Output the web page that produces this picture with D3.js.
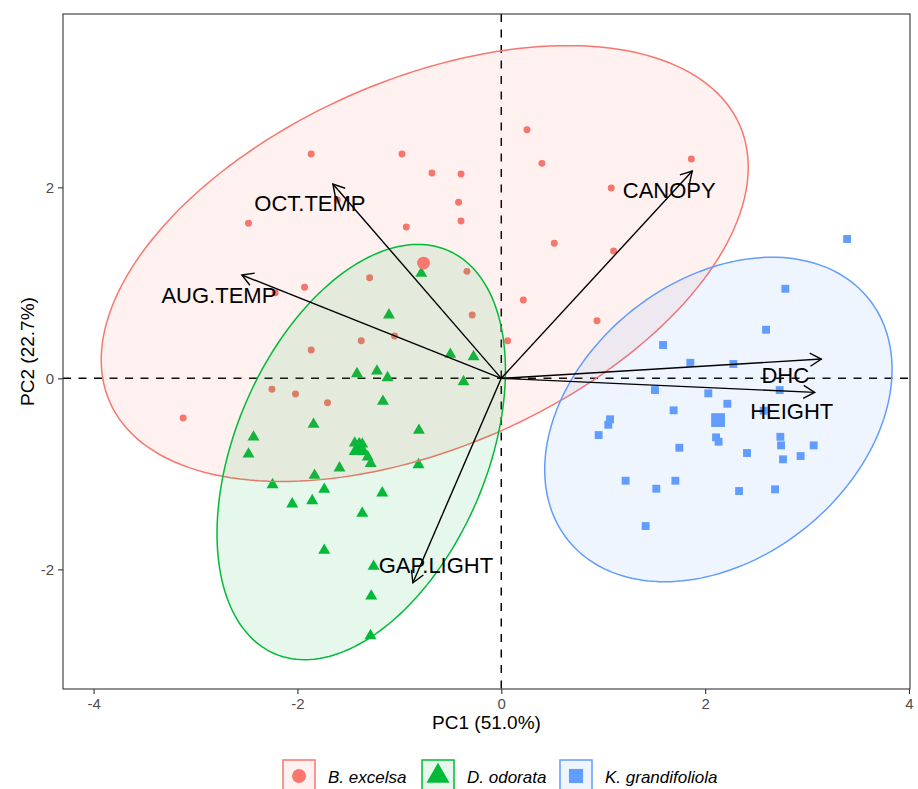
<!DOCTYPE html>
<html>
<head>
<meta charset="utf-8">
<script src="https://cdn.jsdelivr.net/npm/d3@7"></script>
<style>
  body { margin: 0; background: #fff; }
  svg { display: block; }
  text { font-family: "Liberation Sans", Arial, Helvetica, sans-serif; }
</style>
</head>
<body>
<svg id="chart" width="918" height="789"></svg>
<script>
// ---- data -------------------------------------------------------------
const groups = ["B. excelsa", "D. odorata", "K. grandifoliola"];
const groupColors = ["#F8766D", "#00BA38", "#619CFF"];

// individual scores (PC1, PC2) per species
const excelsaPC1 = [-1.865, -2.480, -1.930, -2.218, -1.609, -0.974, -0.680, -0.395, -0.419, -0.395,
                    -0.932, 0.252, 0.399, 0.520, -1.292, -0.337, 0.216, -0.285, 0.939, -1.374,
                    -1.047, 0.062, -1.865, -2.250, -2.019, -1.705, -3.121, 1.079, 1.865, 1.102];
const excelsaPC2 = [2.349, 1.623, 0.953, 0.896, 1.867, 2.349, 2.150, 2.139, 1.843, 1.647,
                    1.584, 2.603, 2.251, 1.414, 1.053, 1.120, 0.820, 0.663, 0.603, 0.394,
                    0.443, 0.394, 0.296, -0.115, -0.164, -0.255, -0.416, 1.993, 2.296, 1.333];

const odorataPC1 = [-0.785, -1.102, -0.500, -0.272, -1.416, -1.220, -1.116, -0.370, -1.161, -1.842,
                    -2.431, -2.480, -0.808, -1.438, -1.364, -1.310, -1.281, -1.587, -0.812, -1.832,
                    -2.244, -1.737, -1.168, -2.051, -1.855, -1.364, -1.737, -1.253, -1.276, -1.283];
const odorataPC2 = [1.099, 0.663, 0.251, 0.226, 0.048, 0.076, 0.006, -0.036, -0.241, -0.482,
                    -0.615, -0.793, -0.545, -0.678, -0.688, -0.824, -0.892, -0.939, -0.905, -1.016,
                    -1.114, -1.162, -1.201, -1.316, -1.282, -1.414, -1.801, -1.969, -2.280, -2.695];

const grandifoliolaPC1 = [3.393, 2.787, 2.598, 1.587, 1.855, 2.277, 2.731, 1.508, 2.031, 2.218,
                          1.691, 2.574, 1.067, 1.050, 0.955, 2.107, 2.132, 2.738, 2.745, 1.747,
                          2.411, 3.065, 2.764, 2.937, 1.220, 1.521, 1.708, 2.333, 2.686, 1.416];
const grandifoliolaPC2 = [1.459, 0.938, 0.509, 0.349, 0.163, 0.150, -0.123, -0.123, -0.157, -0.266,
                          -0.335, -0.339, -0.429, -0.486, -0.594, -0.618, -0.664, -0.612, -0.702, -0.727,
                          -0.782, -0.702, -0.848, -0.814, -1.072, -1.156, -1.072, -1.180, -1.162, -1.547];

// group means
const meanPC1 = [-0.763, -1.394, 2.127];
const meanPC2 = [1.207, -0.740, -0.437];

// concentration ellipses: centre and semi-axis vectors, in PC units
const ellipseCenterPC1 = [-0.751, -1.374, 2.130];
const ellipseCenterPC2 = [1.202, -0.772, -0.431];
const ellipseMajorPC1  = [3.090, 0.849, 1.474];
const ellipseMajorPC2  = [1.450, 2.112, 1.265];
const ellipseMinorPC1  = [0.726, 1.132, 0.855];
const ellipseMinorPC2  = [-1.762, -0.517, -1.134];

// variable loadings (arrow tips)
const varNames = ["CANOPY", "OCT.TEMP", "AUG.TEMP", "DHC", "HEIGHT", "GAP.LIGHT"];
const varPC1 = [1.874, -1.652, -2.545, 3.140, 3.075, -0.867];
const varPC2 = [2.171, 2.035, 1.082, 0.202, -0.147, -2.140];

// axis ticks
const xTicks = [-4, -2, 0, 2, 4];
const yTicks = [-2, 0, 2];
const xTitle = "PC1 (51.0%)";
const yTitle = "PC2 (22.7%)";

// ---- layout -----------------------------------------------------------
const svg = d3.select("#chart");
const panel = { left: 63, right: 910, top: 14, bottom: 689 };

const x = d3.scaleLinear().domain([-4.30, 4.01]).range([panel.left, panel.right]);
const y = d3.scaleLinear().domain([-3.253, 3.815]).range([panel.bottom, panel.top]);

const scores = [
  { pc1: excelsaPC1, pc2: excelsaPC2 },
  { pc1: odorataPC1, pc2: odorataPC2 },
  { pc1: grandifoliolaPC1, pc2: grandifoliolaPC2 }
];

svg.append("defs").append("clipPath").attr("id", "panelClip")
  .append("rect")
  .attr("x", panel.left).attr("y", panel.top)
  .attr("width", panel.right - panel.left).attr("height", panel.bottom - panel.top);

const plot = svg.append("g").attr("clip-path", "url(#panelClip)");

// reference lines through the origin
plot.append("line")
  .attr("x1", panel.left).attr("x2", panel.right)
  .attr("y1", y(0)).attr("y2", y(0))
  .attr("stroke", "#000").attr("stroke-width", 1.5).attr("stroke-dasharray", "8,7.5");
plot.append("line")
  .attr("x1", x(0)).attr("x2", x(0))
  .attr("y1", panel.top).attr("y2", panel.bottom)
  .attr("stroke", "#000").attr("stroke-width", 1.5).attr("stroke-dasharray", "8,7.5");

// symbol generators per group
const symbolTypes = [d3.symbolCircle, d3.symbolTriangle, d3.symbolSquare];
const pointSizes = [38, 62, 62];
const meanSizes = [130, 190, 190];

function drawSymbol(g, gi, cx, cy, size) {
  g.append("path")
    .attr("d", d3.symbol().type(symbolTypes[gi]).size(size)())
    .attr("transform", `translate(${cx},${cy})`)
    .attr("fill", groupColors[gi]);
}

// individuals
scores.forEach((s, gi) => {
  const g = plot.append("g");
  s.pc1.forEach((v, i) => drawSymbol(g, gi, x(v), y(s.pc2[i]), pointSizes[gi]));
});

// ellipses
const line = d3.line().x(d => x(d[0])).y(d => y(d[1])).curve(d3.curveLinearClosed);
groups.forEach((name, gi) => {
  const pts = d3.range(0, 2 * Math.PI, Math.PI / 90).map(t => [
    ellipseCenterPC1[gi] + Math.cos(t) * ellipseMajorPC1[gi] + Math.sin(t) * ellipseMinorPC1[gi],
    ellipseCenterPC2[gi] + Math.cos(t) * ellipseMajorPC2[gi] + Math.sin(t) * ellipseMinorPC2[gi]
  ]);
  plot.append("path")
    .attr("d", line(pts))
    .attr("fill", groupColors[gi]).attr("fill-opacity", 0.1)
    .attr("stroke", groupColors[gi]).attr("stroke-width", 1.5);
});

// group means
groups.forEach((name, gi) => {
  drawSymbol(plot, gi, x(meanPC1[gi]), y(meanPC2[gi]), meanSizes[gi]);
});

// variable arrows
const headLen = 13, headAngle = Math.PI / 6;
const labelNudge = {
  "CANOPY": [-23, 19], "OCT.TEMP": [-23, 19], "AUG.TEMP": [-23, 20],
  "DHC": [-36, 16.5], "HEIGHT": [-23, 19], "GAP.LIGHT": [23, -18]
};
varNames.forEach((name, i) => {
  const x0 = x(0), y0 = y(0), x1 = x(varPC1[i]), y1 = y(varPC2[i]);
  const ang = Math.atan2(y1 - y0, x1 - x0);
  const g = plot.append("g").attr("stroke", "#000").attr("stroke-width", 1.4).attr("fill", "none");
  g.append("line").attr("x1", x0).attr("y1", y0).attr("x2", x1).attr("y2", y1);
  g.append("path").attr("d", d3.line()([
    [x1 - headLen * Math.cos(ang - headAngle), y1 - headLen * Math.sin(ang - headAngle)],
    [x1, y1],
    [x1 - headLen * Math.cos(ang + headAngle), y1 - headLen * Math.sin(ang + headAngle)]
  ]));
  plot.append("text")
    .attr("x", x1 + labelNudge[name][0]).attr("y", y1 + labelNudge[name][1])
    .attr("dy", "0.36em").attr("text-anchor", "middle")
    .attr("font-size", 22).attr("fill", "#000")
    .text(name);
});

// panel border
svg.append("rect")
  .attr("x", panel.left).attr("y", panel.top)
  .attr("width", panel.right - panel.left).attr("height", panel.bottom - panel.top)
  .attr("fill", "none").attr("stroke", "#333").attr("stroke-width", 1.1);

// axes
const xAxis = svg.append("g").attr("transform", `translate(0,${panel.bottom})`)
  .call(d3.axisBottom(x).tickValues(xTicks).tickSize(5).tickPadding(4).tickFormat(d3.format("d")));
const yAxis = svg.append("g").attr("transform", `translate(${panel.left},0)`)
  .call(d3.axisLeft(y).tickValues(yTicks).tickSize(5).tickPadding(4).tickFormat(d3.format("d")));
[xAxis, yAxis].forEach(a => {
  a.select(".domain").remove();
  a.selectAll(".tick line").attr("stroke", "#333").attr("stroke-width", 1.1);
  a.selectAll(".tick text").attr("fill", "#4D4D4D").attr("font-size", 15)
    .attr("font-family", "'Liberation Sans', Arial, sans-serif")
    .text(d => d < 0 ? "-" + Math.abs(d) : d);
});

svg.append("text")
  .attr("x", (panel.left + panel.right) / 2).attr("y", 729)
  .attr("text-anchor", "middle").attr("font-size", 19).attr("fill", "#000")
  .text(xTitle);
svg.append("text")
  .attr("transform", `translate(34,${(panel.top + panel.bottom) / 2}) rotate(-90)`)
  .attr("text-anchor", "middle").attr("font-size", 19).attr("fill", "#000")
  .text(yTitle);

// legend
const legend = svg.append("g");
const keySize = 32, keyTop = 760;
const legendKeyX = [283, 422, 560];
groups.forEach((name, gi) => {
  const kx = legendKeyX[gi];
  legend.append("rect")
    .attr("x", kx).attr("y", keyTop).attr("width", keySize).attr("height", keySize)
    .attr("fill", groupColors[gi]).attr("fill-opacity", 0.1)
    .attr("stroke", groupColors[gi]).attr("stroke-width", 1.5);
  drawSymbol(legend, gi, kx + keySize / 2, keyTop + keySize / 2, [150, 230, 200][gi]);
  legend.append("text")
    .attr("x", kx + keySize + 13).attr("y", 783)
    .attr("font-size", 17).attr("font-style", "italic").attr("fill", "#000")
    .text(name);
});
</script>
</body>
</html>
